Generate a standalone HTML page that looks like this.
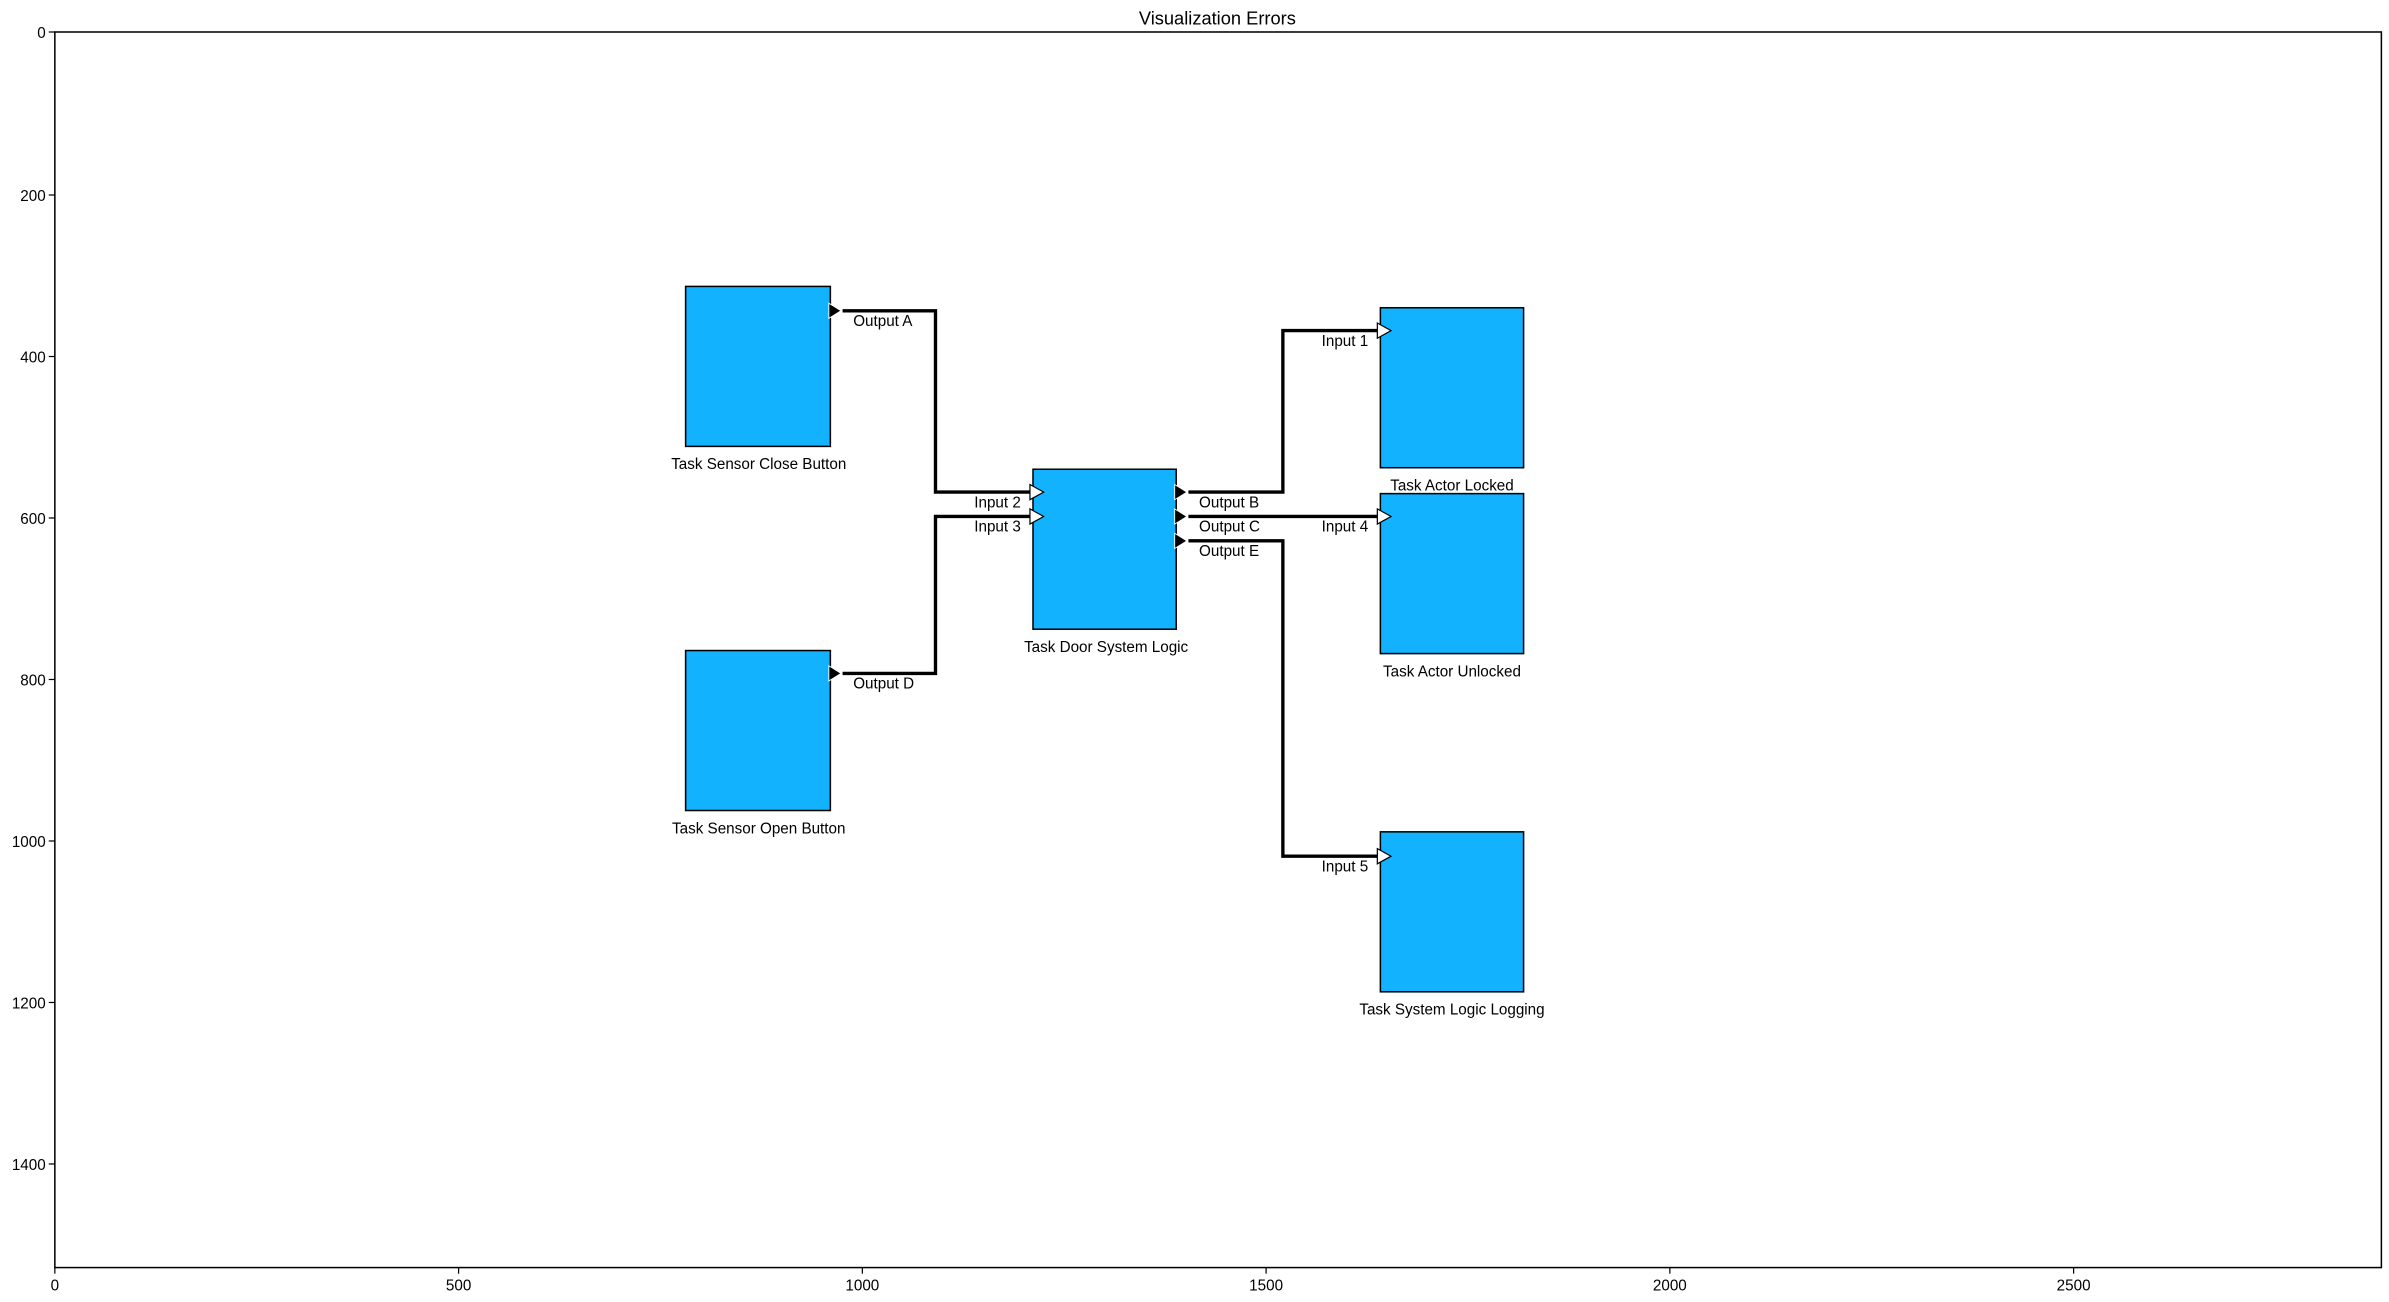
<!DOCTYPE html>
<html><head><meta charset="utf-8"><style>html,body{margin:0;padding:0;background:#fff}svg{display:block}text{font-family:"Liberation Sans",sans-serif;fill:#000}</style></head>
<body>
<svg width="2389" height="1302" viewBox="0 0 1568 854.6" preserveAspectRatio="none" xmlns="http://www.w3.org/2000/svg">
<rect width="1568" height="855" fill="#fff"/>
<text x="799" y="16" font-size="12" text-anchor="middle">Visualization Errors</text>
<rect x="36" y="21" width="1527" height="811" fill="none" stroke="#000" stroke-width="1"/>
<g font-size="10" text-anchor="middle">
<g stroke="#000" stroke-width="0.8">
<line x1="36" y1="832" x2="36" y2="836"/><line x1="301" y1="832" x2="301" y2="836"/><line x1="566" y1="832" x2="566" y2="836"/><line x1="831" y1="832" x2="831" y2="836"/><line x1="1096" y1="832" x2="1096" y2="836"/><line x1="1361" y1="832" x2="1361" y2="836"/>
<line x1="32" y1="21" x2="36" y2="21"/><line x1="32" y1="128" x2="36" y2="128"/><line x1="32" y1="234" x2="36" y2="234"/><line x1="32" y1="340" x2="36" y2="340"/><line x1="32" y1="446" x2="36" y2="446"/><line x1="32" y1="552" x2="36" y2="552"/><line x1="32" y1="658" x2="36" y2="658"/><line x1="32" y1="764" x2="36" y2="764"/>
</g>
<text x="36" y="847">0</text><text x="301" y="847">500</text><text x="566" y="847">1000</text><text x="831" y="847">1500</text><text x="1096" y="847">2000</text><text x="1361" y="847">2500</text>
</g>
<g font-size="10" text-anchor="end">
<text x="30" y="25">0</text><text x="30" y="132">200</text><text x="30" y="238">400</text><text x="30" y="344">600</text><text x="30" y="450">800</text><text x="30" y="556">1000</text><text x="30" y="662">1200</text><text x="30" y="768">1400</text>
</g>
<g fill="none" stroke="#000" stroke-width="2.2">
<polyline points="553,204 614,204 614,323 678,323"/>
<polyline points="553,442 614,442 614,339 678,339"/>
<polyline points="780,323 842,323 842,217 906,217"/>
<polyline points="780,339 906,339"/>
<polyline points="780,355 842,355 842,562 906,562"/>
</g>
<g fill="#12b2ff" stroke="#000" stroke-width="1">
<rect x="450" y="188" width="95" height="105"/>
<rect x="450" y="427" width="95" height="105"/>
<rect x="678" y="308" width="94" height="105"/>
<rect x="906" y="202" width="94" height="105"/>
<rect x="906" y="324" width="94" height="105"/>
<rect x="906" y="546" width="94" height="105"/>
</g>
<g fill="#000" stroke="#fff" stroke-width="0.6">
<polygon points="544,199 552,204 544,209"/>
<polygon points="544,437 552,442 544,447"/>
<polygon points="771,318 779,323 771,328"/>
<polygon points="771,334 779,339 771,344"/>
<polygon points="771,350 779,355 771,360"/>
</g>
<g fill="#fff" stroke="#000" stroke-width="0.8">
<polygon points="676,318 685,323 676,328"/>
<polygon points="676,334 685,339 676,344"/>
<polygon points="904,212 913,217 904,222"/>
<polygon points="904,334 913,339 904,344"/>
<polygon points="904,557 913,562 904,567"/>
</g>
<g font-size="10">
<text x="560" y="214">Output A</text>
<text x="560" y="452">Output D</text>
<text x="787" y="333">Output B</text>
<text x="787" y="349">Output C</text>
<text x="787" y="365">Output E</text>
</g>
<g font-size="10" text-anchor="end">
<text x="670" y="333">Input 2</text>
<text x="670" y="349">Input 3</text>
<text x="898" y="227">Input 1</text>
<text x="898" y="349">Input 4</text>
<text x="898" y="572">Input 5</text>
</g>
<g font-size="10" text-anchor="middle">
<text x="498" y="308">Task Sensor Close Button</text>
<text x="498" y="547">Task Sensor Open Button</text>
<text x="726" y="428">Task Door System Logic</text>
<text x="953" y="322">Task Actor Locked</text>
<text x="953" y="444">Task Actor Unlocked</text>
<text x="953" y="666">Task System Logic Logging</text>
</g>
</svg>
</body></html>
